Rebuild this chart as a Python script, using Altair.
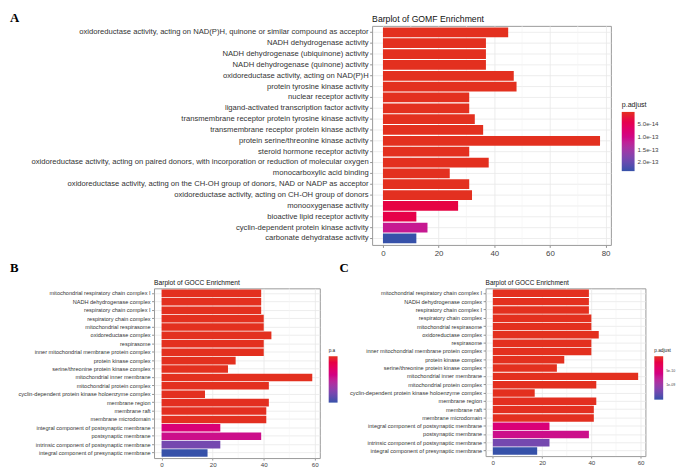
import altair as alt
import pandas as pd

# ---------------- data ----------------
mf_terms = [
    "oxidoreductase activity, acting on NAD(P)H, quinone or similar compound as acceptor",
    "NADH dehydrogenase activity",
    "NADH dehydrogenase (ubiquinone) activity",
    "NADH dehydrogenase (quinone) activity",
    "oxidoreductase activity, acting on NAD(P)H",
    "protein tyrosine kinase activity",
    "nuclear receptor activity",
    "ligand-activated transcription factor activity",
    "transmembrane receptor protein tyrosine kinase activity",
    "transmembrane receptor protein kinase activity",
    "protein serine/threonine kinase activity",
    "steroid hormone receptor activity",
    "oxidoreductase activity, acting on paired donors, with incorporation or reduction of molecular oxygen",
    "monocarboxylic acid binding",
    "oxidoreductase activity, acting on the CH-OH group of donors, NAD or NADP as acceptor",
    "oxidoreductase activity, acting on CH-OH group of donors",
    "monooxygenase activity",
    "bioactive lipid receptor activity",
    "cyclin-dependent protein kinase activity",
    "carbonate dehydratase activity",
]
mf_count = [45, 37, 37, 37, 47, 48, 31, 31, 33, 36, 78, 31, 38, 24, 31, 32, 27, 12, 16, 12]
mf_padj = [1e-20, 2e-19, 2e-19, 2e-19, 5e-19, 1e-18, 3e-18, 3e-18, 6e-18, 8e-18,
           1e-17, 2e-17, 5e-17, 1e-16, 2e-16, 4e-16, 3.0e-14, 3.6e-14, 1.12e-13, 2.35e-13]

cc_terms = [
    "mitochondrial respiratory chain complex I",
    "NADH dehydrogenase complex",
    "respiratory chain complex I",
    "respiratory chain complex",
    "mitochondrial respirasome",
    "oxidoreductase complex",
    "respirasome",
    "inner mitochondrial membrane protein complex",
    "protein kinase complex",
    "serine/threonine protein kinase complex",
    "mitochondrial inner membrane",
    "mitochondrial protein complex",
    "cyclin-dependent protein kinase holoenzyme complex",
    "membrane region",
    "membrane raft",
    "membrane microdomain",
    "integral component of postsynaptic membrane",
    "postsynaptic membrane",
    "intrinsic component of postsynaptic membrane",
    "integral component of presynaptic membrane",
]
cc_count = [39, 39, 39, 40, 40, 43, 40, 40, 29, 26, 59, 42, 17, 42, 41, 41, 23, 39, 23, 18]
cc_padj = [1e-16, 1e-16, 1e-16, 2e-16, 2e-16, 5e-16, 3e-16, 3e-16, 1e-14, 3e-14,
           1e-13, 2e-13, 1e-12, 3e-12, 4e-12, 4e-12, 5.2e-10, 6.6e-10, 1.2e-09, 1.49e-09]

mf_ticks = [0, 20, 40, 60, 80]
mf_minor = [10, 30, 50, 70]
cc_ticks = [0, 20, 40, 60]
cc_minor = [10, 30, 50]

mf_legend_vals = [5e-14, 1e-13, 1.5e-13, 2e-13]
cc_legend_vals = [5e-10, 1e-09]

FONT = "Liberation Sans"
# colours from low p.adjust (red) to high p.adjust (blue)
COLORS = ["#e3301f", "#c21f95", "#3651a9"]


def panel(terms, counts, padj, xdom, ticks, minor, w, h, ylab_fs, xlab_fs, xtick,
          xpad, title, title_fs, title_y, letter, lx, ly, legend):
    df = pd.DataFrame({"term": terms, "count": counts, "padj": padj})
    pmax = max(padj)
    xscale = alt.Scale(domain=xdom, nice=False, zero=False)
    xaxis = alt.Axis(title=None, values=ticks, format="d", labelFontSize=xlab_fs,
                     labelFont=FONT, labelColor="#444444", tickSize=xtick,
                     tickColor="#777777", tickWidth=0.8, labelPadding=xpad,
                     domain=False, grid=True, gridColor="#e8e8e8", gridWidth=0.8,
                     labelFlush=False)
    minor_layer = alt.Chart(pd.DataFrame({"v": minor})).mark_rule(
        color="#f3f3f3", strokeWidth=0.6
    ).encode(x=alt.X("v:Q", scale=xscale, axis=xaxis))
    # negated p.adjust so that the gradient legend runs red (top) -> blue (bottom)
    bars = alt.Chart(df).transform_calculate(neg="-datum.padj").mark_bar().encode(
        x=alt.X("count:Q", scale=xscale, axis=xaxis),
        x2=alt.datum(0),
        y=alt.Y("term:N", sort=terms,
                scale=alt.Scale(paddingInner=0.1, paddingOuter=0.15),
                axis=alt.Axis(title=None, labelFontSize=ylab_fs, labelFont=FONT,
                              labelColor="#333333", labelLimit=700, tickSize=2.5,
                              tickColor="#777777", tickWidth=0.8, labelPadding=1.5,
                              domain=False, grid=True, gridColor="#e8e8e8",
                              gridWidth=0.8, bandPosition=0.5)),
        color=alt.Color("neg:Q",
                        scale=alt.Scale(domain=[-pmax, -pmax / 2, 0],
                                        range=COLORS[::-1]),
                        legend=legend),
    )
    let = alt.Chart(pd.DataFrame({"t": [letter]})).mark_text(
        font="Liberation Serif", fontWeight="bold", fontSize=13, align="left",
        baseline="top", color="#000000"
    ).encode(x=alt.value(lx), y=alt.value(ly), text="t:N")
    ttl = alt.Chart(pd.DataFrame({"t": [title]})).mark_text(
        font=FONT, fontSize=title_fs, align="left", baseline="alphabetic",
        color="#111111"
    ).encode(x=alt.value(0), y=alt.value(title_y), text="t:N")
    return alt.layer(minor_layer, bars, let, ttl).properties(width=w, height=h)


def spacer():
    return alt.Chart(pd.DataFrame({"s": [0]})).mark_point(opacity=0, size=1).properties(
        width=1, height=1, view=alt.ViewBackground(strokeOpacity=0, fillOpacity=0))


def indep(c):
    return c.resolve_scale(color="independent").resolve_legend(color="independent")


legA = alt.Legend(orient="none", legendX=253, legendY=76, direction="vertical",
                  title="p.adjust", titleFont=FONT, titleFontSize=7.2,
                  titleFontWeight="normal", titleColor="#222222", titlePadding=4,
                  gradientLength=60, gradientThickness=13, labelFont=FONT,
                  labelFontSize=6.3, labelColor="#444444", labelOffset=3,
                  values=[-v for v in mf_legend_vals],
                  labelExpr="format(-datum.value, '.1e')")
legB = alt.Legend(orient="none", legendX=177, legendY=61, direction="vertical",
                  title="p.a", titleFont=FONT, titleFontSize=4.8,
                  titleFontWeight="normal", titleColor="#222222", titlePadding=3,
                  gradientLength=47, gradientThickness=9, labelFontSize=1,
                  labelOffset=0, labelExpr="''",
                  values=[-v for v in cc_legend_vals])
legC = alt.Legend(orient="none", legendX=171, legendY=61, direction="vertical",
                  title="p.adjust", titleFont=FONT, titleFontSize=4.8,
                  titleFontWeight="normal", titleColor="#222222", titlePadding=3,
                  gradientLength=44, gradientThickness=9, labelFont=FONT,
                  labelFontSize=3.6, labelColor="#444444", labelOffset=3,
                  values=[-v for v in cc_legend_vals],
                  labelExpr="replace(format(-datum.value, '.0e'), 'e-9', 'e-09')")

A = panel(mf_terms, mf_count, mf_padj, [-3.9, 81.9], mf_ticks, mf_minor, 242, 222,
          7.75, 8.0, 2.5, 2.5, "Barplot of GOMF Enrichment", 8.8, -4, "A", -367, -14,
          legA)
B = panel(cc_terms, cc_count, cc_padj, [-2.95, 61.95], cc_ticks, cc_minor, 168, 172,
          5.65, 6.3, 2, 1.5, "Barplot of GOCC Enrichment", 6.75, -3, "B", -146, -27,
          legB)
C = panel(cc_terms, cc_count, cc_padj, [-2.95, 61.95], cc_ticks, cc_minor, 162, 170,
          5.65, 6.3, 2, 1.5, "Barplot of GOCC Enrichment", 6.55, -3, "C", -148, -27,
          legC)

row1 = indep(alt.hconcat(spacer(), A, spacing=0))
row2 = indep(alt.hconcat(spacer(), B, C, spacing=0))

chart = indep(alt.vconcat(row1, row2, spacing=2)).properties(
    padding=0
).configure_view(stroke="#999999", strokeWidth=1).configure_legend(
    gradientStrokeWidth=0
)

chart.save("out.html", embed_options={"renderer": "svg", "actions": False})
